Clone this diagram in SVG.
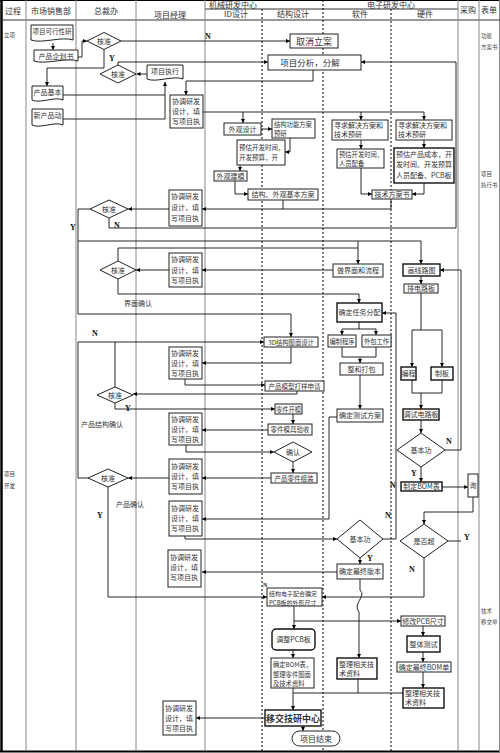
<svg xmlns="http://www.w3.org/2000/svg" width="500" height="753" viewBox="0 0 500 753">
<defs>
<marker id="ar" viewBox="0 0 6 6" refX="6" refY="3" markerWidth="4" markerHeight="4" markerUnits="userSpaceOnUse" orient="auto"><path d="M0,0 L6,3 L0,6 Z" fill="#000"/></marker>
<style>
.lane{stroke:#888;stroke-width:1;fill:none}
.dot{stroke:#000;stroke-width:1;stroke-dasharray:2,2;fill:none}
.ln{stroke:#111;stroke-width:0.9;fill:none}
.la{stroke:#111;stroke-width:0.9;fill:none;marker-end:url(#ar)}
.bx{fill:#fff;stroke:#222;stroke-width:1}
.bk{fill:#fff;stroke:#111;stroke-width:1.4}
.t{font-family:"Noto Sans CJK SC","Noto Sans",sans-serif;font-size:7px;fill:#333}
.c{text-anchor:middle}
.h{font-family:"Noto Sans CJK SC","Noto Sans",sans-serif;font-size:8px;fill:#333;text-anchor:middle}
.s{font-family:"Noto Sans CJK SC","Noto Sans",sans-serif;font-size:5.5px;fill:#444}
.yn{font-family:"Liberation Serif",serif;font-size:8px;fill:#111;font-weight:bold}
</style>
</defs>
<rect x="0" y="0" width="500" height="753" fill="#fff"/>
<g id="frame">
<line x1="1.5" y1="0" x2="1.5" y2="752" stroke="#000" stroke-width="2.5"/>
<line x1="0" y1="0.5" x2="500" y2="0.5" stroke="#000"/>
<line x1="0" y1="751.5" x2="500" y2="751.5" stroke="#000" stroke-width="2"/>
<line x1="499.5" y1="0" x2="499.5" y2="752" class="lane"/>
<line x1="0" y1="20" x2="500" y2="20" stroke="#333"/>
<line x1="205" y1="9" x2="458" y2="9" stroke="#333"/>
<line x1="26" y1="0" x2="26" y2="751" class="lane"/>
<line x1="76" y1="0" x2="76" y2="751" class="lane"/>
<line x1="136" y1="0" x2="136" y2="751" class="lane"/>
<line x1="205" y1="0" x2="205" y2="751" class="lane"/>
<line x1="458" y1="0" x2="458" y2="751" class="lane"/>
<line x1="479" y1="0" x2="479" y2="751" class="lane"/>
<line x1="262" y1="9" x2="262" y2="751" class="dot"/>
<line x1="323" y1="0" x2="323" y2="751" class="dot"/>
<line x1="391" y1="9" x2="391" y2="751" class="dot"/>
<text class="h" x="13" y="14">过程</text>
<text class="h" x="51" y="14">市场销售部</text>
<text class="h" x="106" y="14">总裁办</text>
<text class="h" x="170" y="18">项目经理</text>
<text class="h" x="233" y="7.5">机械研发中心</text>
<text class="h" x="236" y="17">ID设计</text>
<text class="h" x="293" y="17">结构设计</text>
<text class="h" x="391" y="7.5">电子研发中心</text>
<text class="h" x="360" y="17">软件</text>
<text class="h" x="425" y="17">硬件</text>
<text class="h" x="468" y="13">采购</text>
<text class="h" x="489" y="13">表单</text>
<text class="s" x="4" y="37">立项</text>
<text class="s" x="4" y="476">项目</text>
<text class="s" x="4" y="488">开发</text>
<text class="s" x="481" y="38">功能</text>
<text class="s" x="481" y="49">方案书</text>
<text class="s" x="481" y="176">项目</text>
<text class="s" x="481" y="187">执行书</text>
<text class="s" x="481" y="613">技术</text>
<text class="s" x="481" y="624">移交单</text>
</g>
<g id="connectors">
<path class="la" d="M53,43 V50"/>
<path class="la" d="M78,57 H82 V41 H87"/>
<path class="la" d="M121,41 H290"/>
<path class="la" d="M104,49.5 V68 H47 V86"/>
<path class="ln" d="M63,95 H165"/>
<path class="la" d="M63,119 H165 V82"/>
<path class="la" d="M147,74 H136.5"/>
<path class="la" d="M118,65 V62 H268"/>
<path class="la" d="M109,218 V228 H456 V62 H361"/>
<path class="la" d="M313,70 V81 H186 V95"/>
<path class="ln" d="M203,112 H424"/>
<path class="la" d="M243,112 V123"/>
<path class="la" d="M361,112 V120"/>
<path class="la" d="M424,112 V120"/>
<path class="la" d="M261,129 H272"/>
<path class="la" d="M290,138 V152 H285"/>
<path class="la" d="M240,165 V171"/>
<path class="la" d="M235,181 V194 H248"/>
<path class="la" d="M361,140 V149"/>
<path class="la" d="M424,140 V148"/>
<path class="la" d="M361,168 V194 H372"/>
<path class="la" d="M424,183 V194 H412"/>
<path class="la" d="M391,199 V209 H202"/>
<path class="ln" d="M283,200 V209"/>
<path class="la" d="M169,209 H128"/>
<path class="la" d="M90,209 H78 V314 H291 V337"/>
<path class="la" d="M78,241 H421 V264"/>
<path class="la" d="M358,241 V264"/>
<path class="la" d="M88,478 H78 V342 H264"/>
<path class="ln" d="M115,387 V342"/>
<path class="ln" d="M118,261 V248 H358"/>
<path class="la" d="M118,279 V294 H359 V303"/>
<path class="la" d="M333,270 H202"/>
<path class="la" d="M169,270 H136"/>
<path class="la" d="M421,276 V284"/>
<path class="ln" d="M421,293 V330"/>
<path class="la" d="M412,330 H442 V367"/>
<path class="la" d="M412,330 V367"/>
<path class="ln" d="M359,322 V329"/>
<path class="la" d="M342,329 H376 V335"/>
<path class="la" d="M342,329 V335"/>
<path class="ln" d="M342,347 V357 H376 V347"/>
<path class="la" d="M360,357 V363"/>
<path class="la" d="M360,375 V409"/>
<path class="la" d="M291,347 V363 H202"/>
<path class="la" d="M185,379 V385 H265"/>
<path class="la" d="M297,391 V394 H133"/>
<path class="la" d="M115,403 V409 H275"/>
<path class="la" d="M293,414 V424"/>
<path class="la" d="M268,430 H202"/>
<path class="la" d="M186,445 V452 H274"/>
<path class="la" d="M293,462 V473"/>
<path class="la" d="M271,478 H202"/>
<path class="la" d="M169,478 H128"/>
<path class="ln" d="M412,380 V393 H442 V380"/>
<path class="la" d="M421,393 V409"/>
<path class="la" d="M421,420 V433"/>
<path class="la" d="M421,467 V482"/>
<path class="la" d="M445,450 H461 V270 H440"/>
<path class="ln" d="M448,541 H461"/>
<path class="la" d="M442,487 H468"/>
<path class="la" d="M473,497 V512 H424 V524"/>
<path class="la" d="M337,417 H329 V519 H202"/>
<path class="la" d="M185,536 V539 H337"/>
<path class="la" d="M383,539 H396 V313 H382"/>
<path class="la" d="M360,558 V564"/>
<path class="la" d="M337,572 H202"/>
<path class="la" d="M360,579 V590 C367,596 352,604 359,612 V658"/>
<path class="la" d="M424,558 V597 H322"/>
<path class="la" d="M108,487 V597 H267"/>
<path class="la" d="M294,606 V629"/>
<path class="la" d="M294,621 H401"/>
<path class="la" d="M423,626 V636"/>
<path class="la" d="M423,652 V662"/>
<path class="la" d="M423,672 V688"/>
<path class="la" d="M293,650 V658"/>
<path class="la" d="M293,688 V710"/>
<path class="ln" d="M358,679 V693"/>
<path class="ln" d="M403,693 H293"/>
<path class="la" d="M265,718 H196"/>
<path class="la" d="M303,726 V731"/>
<text class="yn" x="205" y="39">N</text>
<text class="yn" x="109" y="61">Y</text>
<text class="yn" x="70" y="230">Y</text>
<text class="yn" x="114" y="228">N</text>
<text class="t" x="138" y="306" text-anchor="middle">界面确认</text>
<text class="yn" x="92" y="336">N</text>
<text class="yn" x="125" y="411">Y</text>
<text class="t" x="102" y="427" text-anchor="middle">产品结构确认</text>
<text class="t" x="130" y="507" text-anchor="middle">产品确认</text>
<text class="yn" x="97" y="518">Y</text>
<text class="yn" x="446" y="444">N</text>
<text class="yn" x="411" y="476">Y</text>
<text class="yn" x="390" y="488">N</text>
<text class="yn" x="385" y="518">N</text>
<text class="yn" x="367" y="561">Y</text>
<text class="yn" x="464" y="540">Y</text>
<text class="yn" x="409" y="572">N</text>
<text class="yn" x="263" y="587" style="font-size:6px">N</text>
</g>
<g id="n1"><path class="bx" d="M31,25 H73 V40 C62.5,36 41.5,44 31,40 Z"/><text class="t c" x="52" y="34" style="font-size:6.5px">项目可行性研</text></g>
<g id="n2"><path class="bx" d="M34,50 H78 V61 C67,57 45,65 34,61 Z"/><text class="t c" x="56" y="59">产品企划书</text></g>
<g id="d1"><polygon class="bx" points="87,41 104,32.5 121,41 104,49.5"/><text class="t c" x="104" y="43.5">核准</text></g>
<g id="n3"><rect class="bx" x="290" y="34" width="48" height="14"/><text class="t c" x="314" y="44.5" style="font-size:9px">取消立案</text></g>
<g id="n4"><path class="bx" d="M32,86 H63 V100 C55.25,96 39.75,104 32,100 Z"/><text class="t c" x="47.5" y="95">产品基本</text></g>
<g id="n5"><path class="bx" d="M32,109 H63 V125 C55.25,121 39.75,129 32,125 Z"/><text class="t c" x="47.5" y="118">新产品动</text></g>
<g id="d2"><polygon class="bx" points="100,74 118,65 136,74 118,83"/><text class="t c" x="118" y="76.5">核准</text></g>
<g id="n6"><path class="bx" d="M147,65 H183 V79 C174,75 156,83 147,79 Z"/><text class="t c" x="165" y="74">项目执行</text></g>
<g id="n7"><rect class="bx" x="268" y="55" width="93" height="15"/><text class="t c" x="310" y="65.5" style="font-size:8.5px">项目分析，分解</text></g>
<g id="b1"><rect class="bx" x="170" y="95" width="33" height="33"/><text class="t" x="172" y="103.5">协调研发</text><text class="t" x="172" y="113.5">设计，填</text><text class="t" x="172" y="123.5">写项目执</text></g>
<g id="m1"><rect class="bx" x="224" y="123" width="37" height="12"/><text class="t c" x="242.5" y="131.5">外观设计</text></g>
<g id="m2"><rect class="bx" x="272" y="119" width="43" height="19"/><text class="t" x="274" y="126.5" style="font-size:6.3px">结构功能方案</text><text class="t" x="274" y="135.5" style="font-size:6.3px">预研</text></g>
<g id="m3"><rect class="bx" x="237" y="140" width="48" height="25"/><text class="t" x="239" y="150" style="font-size:6.5px">预估开发时间，</text><text class="t" x="239" y="160" style="font-size:6.5px">开发预算，开</text></g>
<g id="m4"><rect class="bx" x="214" y="171" width="33" height="10"/><text class="t c" x="230.5" y="178.5">外观建模</text></g>
<g id="m5"><rect class="bx" x="248" y="189" width="70" height="11"/><text class="t c" x="283" y="197">结构、外观基本方案</text></g>
<g id="s1"><rect class="bx" x="332" y="120" width="56" height="20"/><text class="t" x="334" y="128">寻求解决方案和</text><text class="t" x="334" y="137">技术预研</text></g>
<g id="s2"><rect class="bx" x="337" y="149" width="47" height="19"/><text class="t" x="339" y="157" style="font-size:6.3px">预估开发时间，</text><text class="t" x="339" y="166" style="font-size:6.3px">人员配备</text></g>
<g id="h1"><rect class="bx" x="396" y="120" width="56" height="20"/><text class="t" x="398" y="128">寻求解决方案和</text><text class="t" x="398" y="137">技术预研</text></g>
<g id="h2"><rect class="bk" x="394" y="148" width="60" height="35"/><text class="t" x="396" y="157">预估产品成本，开</text><text class="t" x="396" y="167">发时间、开发预算</text><text class="t" x="396" y="178">人员配备、PCB板</text></g>
<g id="e1"><rect class="bx" x="372" y="190" width="40" height="9"/><text class="t c" x="392" y="197">技术方案书</text></g>
<g id="b2"><rect class="bx" x="169" y="190" width="33" height="36"/><text class="t" x="171" y="199">协调研发</text><text class="t" x="171" y="210">设计，填</text><text class="t" x="171" y="221">写项目执</text></g>
<g id="d3"><polygon class="bx" points="90,209 109,200 128,209 109,218"/><text class="t c" x="109" y="211.5">核准</text></g>
<g id="b3"><rect class="bx" x="169" y="253" width="33" height="34"/><text class="t" x="171" y="262">协调研发</text><text class="t" x="171" y="273">设计，填</text><text class="t" x="171" y="283">写项目执</text></g>
<g id="d4"><polygon class="bx" points="100,270 118,261 136,270 118,279"/><text class="t c" x="118" y="272.5">核准</text></g>
<g id="s3"><rect class="bx" x="333" y="264" width="50" height="13"/><text class="t c" x="358" y="273">做界面和流程</text></g>
<g id="h3"><rect class="bk" x="403" y="264" width="37" height="12"/><text class="t c" x="421.5" y="272.5">画线路图</text></g>
<g id="h4"><rect class="bx" x="404" y="284" width="34" height="9"/><text class="t c" x="421" y="291">排电路板</text></g>
<g id="s4"><rect class="bk" x="337" y="303" width="45" height="19"/><text class="t c" x="359.5" y="315">确定任务分配</text></g>
<g id="s5"><rect class="bx" x="328" y="335" width="28" height="12"/><text class="t c" x="342" y="343.5" style="font-size:6.3px">编制程序</text></g>
<g id="s6"><rect class="bx" x="362" y="335" width="29" height="12"/><text class="t c" x="376.5" y="343.5" style="font-size:6.3px">外包工作</text></g>
<g id="s7"><rect class="bx" x="340" y="363" width="43" height="12"/><text class="t c" x="361.5" y="371.5">整和打包</text></g>
<g id="h5"><rect class="bk" x="401" y="367" width="15" height="13"/><text class="t c" x="408.5" y="376">编程</text></g>
<g id="h6"><rect class="bk" x="431" y="367" width="22" height="13"/><text class="t c" x="442" y="376">制板</text></g>
<g id="m6"><rect class="bx" x="264" y="337" width="54" height="10"/><text class="t c" x="291" y="344.5" style="font-size:6.3px">3D结构图面设计</text></g>
<g id="b4"><rect class="bx" x="169" y="347" width="33" height="32"/><text class="t" x="171" y="356">协调研发</text><text class="t" x="171" y="366">设计，填</text><text class="t" x="171" y="376">写项目执</text></g>
<g id="m7"><rect class="bx" x="265" y="381" width="59" height="10"/><text class="t c" x="294.5" y="388.5" style="font-size:6.5px">产品模型打样申请</text></g>
<g id="d5"><polygon class="bx" points="97,395 115,387 133,395 115,403"/><text class="t c" x="115" y="397.5">核准</text></g>
<g id="s8"><rect class="bx" x="337" y="409" width="46" height="13"/><text class="t c" x="360" y="418">确定测试方案</text></g>
<g id="h7"><rect class="bk" x="403" y="409" width="36" height="11"/><text class="t c" x="421" y="417">调试电路板</text></g>
<g id="m8"><rect class="bx" x="275" y="404" width="27" height="10"/><text class="t c" x="288.5" y="411.5" style="font-size:6.3px">零件开模</text></g>
<g id="m9"><rect class="bx" x="268" y="424" width="44" height="11"/><text class="t c" x="290" y="432" style="font-size:6.5px">零件模具验收</text></g>
<g id="b5"><rect class="bx" x="169" y="413" width="33" height="32"/><text class="t" x="171" y="422">协调研发</text><text class="t" x="171" y="432">设计，填</text><text class="t" x="171" y="442">写项目执</text></g>
<g id="m10"><polygon class="bx" points="274,452 293,442 312,452 293,462"/><text class="t c" x="293" y="454.5">确认</text></g>
<g id="h8"><polygon class="bx" points="397,450 421,433 445,450 421,467"/><text class="t c" x="421" y="452.5">基本功</text></g>
<g id="m11"><rect class="bx" x="271" y="473" width="46" height="10"/><text class="t c" x="294" y="480.5" style="font-size:6.5px">产品零件组装</text></g>
<g id="b6"><rect class="bx" x="169" y="459" width="33" height="35"/><text class="t" x="171" y="469">协调研发</text><text class="t" x="171" y="479">设计，填</text><text class="t" x="171" y="489">写项目执</text></g>
<g id="d6"><polygon class="bx" points="88,478 108,469 128,478 108,487"/><text class="t c" x="108" y="480.5">核准</text></g>
<g id="h9"><rect class="bk" x="401" y="482" width="41" height="9"/><text class="t c" x="421.5" y="489">制定BOM表</text></g>
<g id="p1"><rect class="bx" x="468" y="474" width="10" height="23"/><text class="t c" x="473" y="488">询</text></g>
<g id="b7"><rect class="bx" x="169" y="501" width="33" height="35"/><text class="t" x="171" y="511">协调研发</text><text class="t" x="171" y="521">设计，填</text><text class="t" x="171" y="531">写项目执</text></g>
<g id="s9"><polygon class="bx" points="337,539 360,520 383,539 360,558"/><text class="t c" x="360" y="541.5">基本功</text></g>
<g id="h10"><polygon class="bx" points="400,541 424,524 448,541 424,558"/><text class="t c" x="424" y="543.5">是否超</text></g>
<g id="b8"><rect class="bx" x="168" y="550" width="33" height="37"/><text class="t" x="170" y="560">协调研发</text><text class="t" x="170" y="570">设计，填</text><text class="t" x="170" y="580">写项目执</text></g>
<g id="s10"><rect class="bx" x="337" y="564" width="46" height="15"/><text class="t c" x="360" y="574">确定最终版本</text></g>
<g id="m12"><rect class="bx" x="267" y="588" width="55" height="18"/><text class="t" x="269" y="596" style="font-size:6px">结构电子配合确定</text><text class="t" x="269" y="604.5" style="font-size:6px">PCB板的外形尺寸</text></g>
<g id="h11"><rect class="bx" x="401" y="616" width="44" height="10"/><text class="t c" x="423" y="623.5">修改PCB尺寸</text></g>
<g id="m13"><rect class="bk" x="272" y="629" width="43" height="21" rx="4"/><text class="t c" x="293.5" y="642">调整PCB板</text></g>
<g id="h12"><rect class="bk" x="407" y="636" width="33" height="16"/><text class="t c" x="423.5" y="646.5">整体测试</text></g>
<g id="m14"><rect class="bx" x="271" y="658" width="43" height="30"/><text class="t" x="273" y="667" style="font-size:6.3px">确定BOM表，</text><text class="t" x="273" y="677" style="font-size:6.3px">整理零件图面</text><text class="t" x="273" y="686" style="font-size:6.3px">及技术资料</text></g>
<g id="s11"><rect class="bk" x="337" y="658" width="40" height="21"/><text class="t" x="339" y="667">整理相关技</text><text class="t" x="339" y="676">术资料</text></g>
<g id="h13"><rect class="bx" x="397" y="662" width="54" height="10"/><text class="t c" x="424" y="669.5">确定最终BOM单</text></g>
<g id="h14"><rect class="bk" x="403" y="688" width="41" height="20"/><text class="t" x="405" y="696">整理相关技</text><text class="t" x="405" y="705">术资料</text></g>
<g id="b9"><rect class="bx" x="163" y="701" width="33" height="34"/><text class="t" x="165" y="711">协调研发</text><text class="t" x="165" y="721">设计，填</text><text class="t" x="165" y="731">写项目执</text></g>
<g id="m15"><rect class="bk" x="265" y="710" width="56" height="16"/><text class="t c" x="293" y="721.5" style="font-size:9px;font-weight:bold">移交技研中心</text></g>
<g id="m16"><rect class="bx" x="292" y="731" width="48" height="15" rx="7.5"/><text class="t c" x="316" y="741.5" style="font-size:8px">项目结束</text></g>
</svg>
